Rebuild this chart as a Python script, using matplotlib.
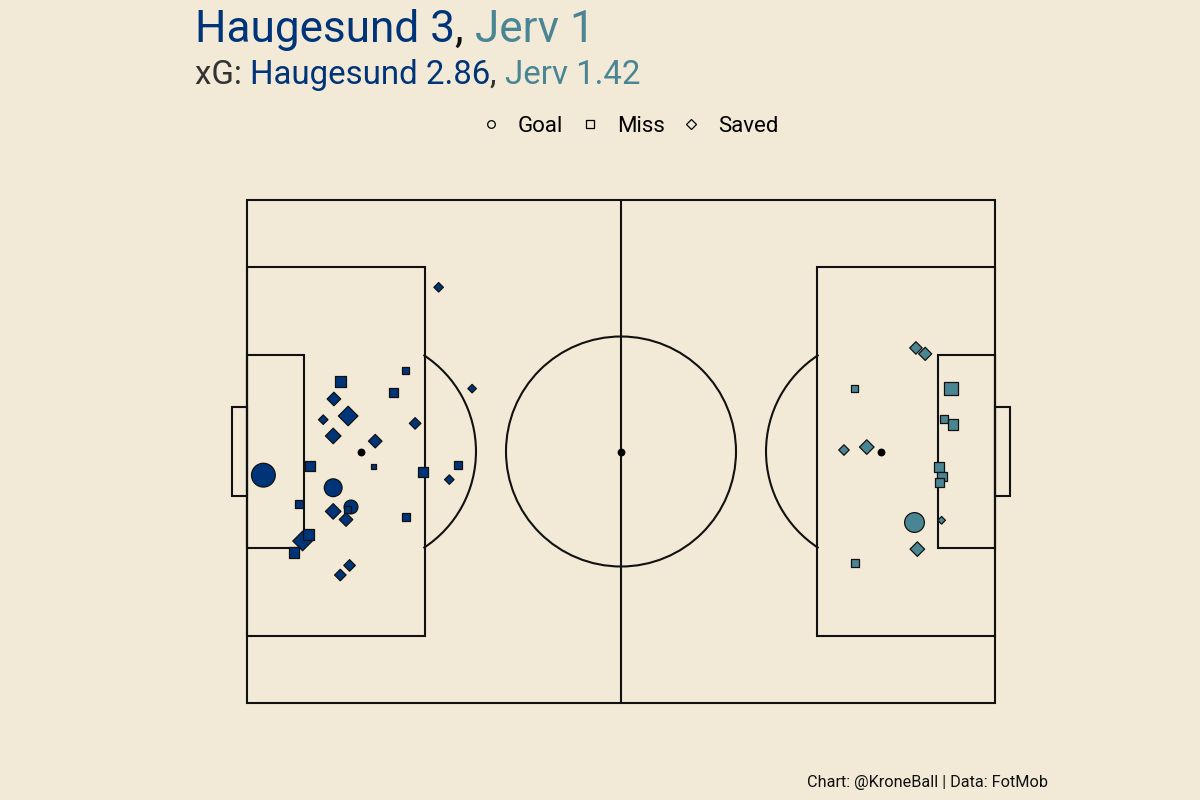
import matplotlib
matplotlib.use("Agg")
import matplotlib.pyplot as plt
from matplotlib.patches import Rectangle, Ellipse, Arc
from matplotlib.lines import Line2D
import numpy as np

plt.rcParams['font.family'] = ['Roboto', 'DejaVu Sans']

# ---------------- data ----------------
home_team = "Haugesund"
away_team = "Jerv"
home_goals = 3
away_goals = 1
home_xg_total = "2.86"
away_xg_total = "1.42"

# Haugesund shots (attacking the left goal), pitch 105 x 68
home_x = [26.9, 22.2, 13.1, 20.5, 12.2, 31.6, 14.2, 10.7, 23.6, 12.1, 18.0, 17.7, 8.9, 24.7, 29.6,
          28.4, 2.3, 12.1, 7.3, 14.6, 14.1, 12.1, 13.9, 22.3, 7.8, 8.6, 6.6, 14.4, 13.1]
home_y = [56.2, 45.0, 43.5, 42.0, 41.1, 42.5, 38.8, 38.3, 37.8, 36.1, 35.4, 32.0, 32.1, 31.2, 32.2,
          30.2, 30.8, 29.1, 26.9, 26.5, 26.2, 25.9, 24.8, 25.1, 21.9, 22.8, 20.3, 18.6, 17.3]
home_xg = [0.047, 0.049, 0.111, 0.078, 0.088, 0.039, 0.172, 0.047, 0.066, 0.113, 0.088, 0.028, 0.094,
           0.094, 0.063, 0.047, 0.380, 0.220, 0.063, 0.137, 0.049, 0.113, 0.088, 0.063, 0.172, 0.111,
           0.111, 0.066, 0.066]
home_outcome = ["Saved", "Miss", "Miss", "Miss", "Saved", "Saved", "Saved", "Saved", "Saved", "Saved",
                "Saved", "Miss", "Miss", "Miss", "Miss", "Saved", "Goal", "Goal", "Miss", "Goal",
                "Miss", "Saved", "Saved", "Miss", "Saved", "Miss", "Miss", "Saved", "Saved"]

# Jerv shots (attacking the right goal)
away_x = [93.9, 95.2, 85.3, 98.8, 97.8, 99.1, 83.8, 87.0, 97.1, 97.6, 97.2, 93.6, 97.5, 94.1, 85.3]
away_y = [48.0, 47.2, 42.5, 42.5, 38.4, 37.7, 34.2, 34.6, 31.9, 30.6, 29.8, 24.5, 24.7, 20.8, 18.9]
away_xg = [0.076, 0.083, 0.058, 0.168, 0.067, 0.111, 0.056, 0.100, 0.089, 0.089, 0.089, 0.268,
           0.033, 0.100, 0.067]
away_outcome = ["Saved", "Saved", "Miss", "Miss", "Miss", "Miss", "Saved", "Saved", "Miss", "Miss",
                "Miss", "Goal", "Saved", "Saved", "Miss"]

legend_labels = ["Goal", "Miss", "Saved"]
credit = "Chart: @KroneBall | Data: FotMob"

# ---------------- style ----------------
BG = "#F2EAD7"
HOME_C = "#003478"
AWAY_C = "#4A8594"
LINE_C = "#111111"
LW = 1.5

W, H = 1200, 800
fig = plt.figure(figsize=(12, 8), dpi=100, facecolor=BG)

L, R, T, B = 247, 995, 200, 703
ax = fig.add_axes([L / W, 1 - B / H, (R - L) / W, (B - T) / H])
ax.set_facecolor(BG)
ax.set_xlim(0, 105)
ax.set_ylim(0, 68)
ax.axis('off')

PL, PW = 105.0, 68.0
pxx = (R - L) / PL   # px per unit in x
pxy = (B - T) / PW   # px per unit in y

def rect(x0, y0, w, h):
    ax.add_patch(Rectangle((x0, y0), w, h, fill=False, ec=LINE_C, lw=LW, clip_on=False, zorder=1))

rect(0, 0, PL, PW)
ax.plot([PL / 2, PL / 2], [0, PW], color=LINE_C, lw=LW, zorder=1)
box_d, box_hw = 25.0, 25.0
six_d, six_hw = 8.0, 13.05
goal_d, goal_hw = 2.1, 6.0
spot = 16.0
circ_px = 115.0
for side in (0, 1):
    if side == 0:
        rect(0, PW / 2 - box_hw, box_d, 2 * box_hw)
        rect(0, PW / 2 - six_hw, six_d, 2 * six_hw)
        rect(-goal_d, PW / 2 - goal_hw, goal_d, 2 * goal_hw)
        sx = spot
    else:
        rect(PL - box_d, PW / 2 - box_hw, box_d, 2 * box_hw)
        rect(PL - six_d, PW / 2 - six_hw, six_d, 2 * six_hw)
        rect(PL, PW / 2 - goal_hw, goal_d, 2 * goal_hw)
        sx = PL - spot
    # penalty arc outside box
    dxp = (box_d - spot) * pxx
    ang = np.degrees(np.arccos(dxp / circ_px))
    if side == 0:
        t1, t2 = -ang, ang
    else:
        t1, t2 = 180 - ang, 180 + ang
    ax.add_patch(Arc((sx, PW / 2), 2 * circ_px / pxx, 2 * circ_px / pxy, theta1=t1, theta2=t2,
                     ec=LINE_C, lw=LW, zorder=1))
    ax.scatter([sx], [PW / 2], s=32, color="black", zorder=1, lw=0)

ax.add_patch(Ellipse((PL / 2, PW / 2), 2 * circ_px / pxx, 2 * circ_px / pxy, fill=False,
                     ec=LINE_C, lw=LW, zorder=1))
ax.scatter([PL / 2], [PW / 2], s=32, color="black", zorder=1, lw=0)

# ---------------- shots ----------------
marker_of = {"Goal": "o", "Saved": "D", "Miss": "s"}
shape_fac = {"Goal": 1.0, "Saved": 0.886, "Miss": 0.886}
order = ["Goal", "Saved", "Miss"]

def draw_team(xs, ys, xgs, outs, color, z0):
    xs, ys, xgs = np.array(xs), np.array(ys), np.array(xgs)
    outs = np.array(outs)
    for k, o in enumerate(order):
        m = outs == o
        d_px = 40.5 * np.sqrt(xgs[m]) - 1.2
        ms = d_px * shape_fac[o] * 0.72
        ax.scatter(xs[m], ys[m], s=ms ** 2, marker=marker_of[o], facecolor=color,
                   edgecolor="#111111", linewidth=0.9, zorder=z0 + k)

draw_team(home_x, home_y, home_xg, home_outcome, HOME_C, 3)
draw_team(away_x, away_y, away_xg, away_outcome, AWAY_C, 3)

# ---------------- titles ----------------
renderer = fig.canvas.get_renderer()

def colored_line(x_px, y_px, pieces, size):
    x = x_px
    for txt, col in pieces:
        t = fig.text(x / W, 1 - y_px / H, txt, color=col, fontsize=size, ha='left', va='baseline')
        bb = t.get_window_extent(renderer=renderer)
        x += bb.width

colored_line(195, 42, [(f"{home_team} {home_goals}", HOME_C), (", ", "#111111"),
                       (f"{away_team} {away_goals}", AWAY_C)], 31.8)
colored_line(195, 84, [("xG: ", "#333333"), (f"{home_team} {home_xg_total}", HOME_C),
                       (", ", "#333333"), (f"{away_team} {away_xg_total}", AWAY_C)], 23.8)

handles = [Line2D([], [], ls='none', marker=marker_of[l], markersize=ms, markerfacecolor=BG,
                  markeredgecolor="black", markeredgewidth=0.9)
           for l, ms in zip(legend_labels, [5.5, 5.6, 5.4])]
fig.legend(handles, legend_labels, loc='center', bbox_to_anchor=(629 / W, 1 - 126 / H),
           ncol=3, frameon=False, fontsize=16, handlelength=1.0, handletextpad=0.72,
           columnspacing=0.68, borderpad=0, borderaxespad=0)

fig.text(1048 / W, 1 - 787 / H, credit, fontsize=11.7, ha='right', va='baseline', color="#111111")

fig.savefig("out.png", dpi=100, facecolor=BG)
